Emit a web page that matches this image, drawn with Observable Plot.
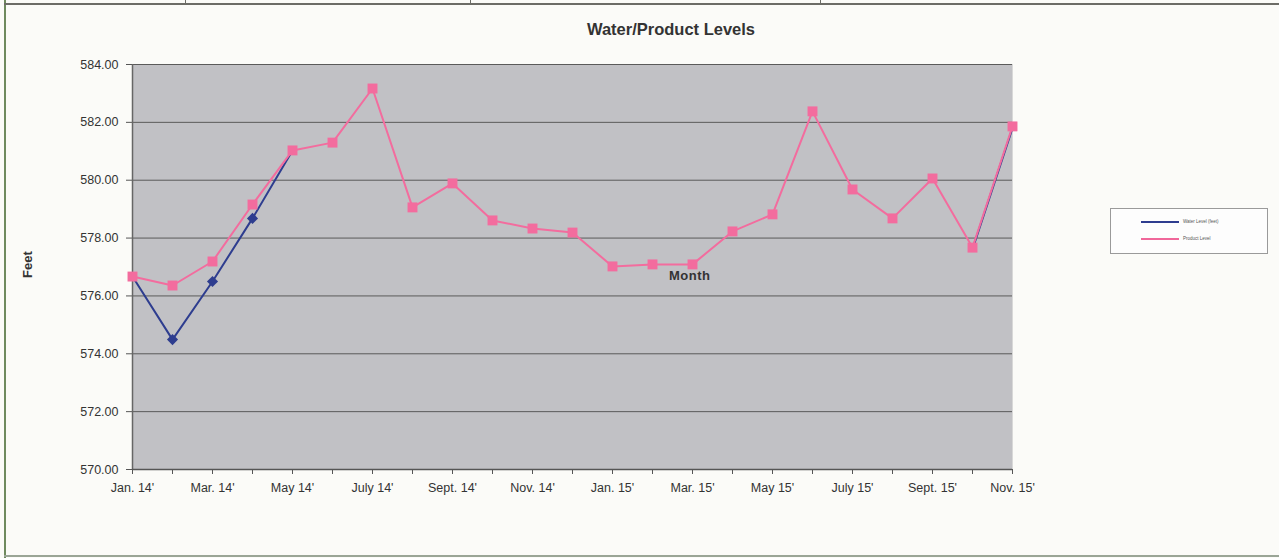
<!DOCTYPE html>
<html>
<head>
<meta charset="utf-8">
<script src="https://cdn.jsdelivr.net/npm/d3@7"></script>
<script src="https://cdn.jsdelivr.net/npm/@observablehq/plot@0.6"></script>
<style>
  html, body { margin: 0; padding: 0; background: #fbfbf8; }
  #wrap { position: relative; width: 1279px; height: 558px; overflow: hidden; background: #fbfbf8;
          font-family: "Liberation Sans", Arial, sans-serif; }
  .abs { position: absolute; }
  #chart { position: absolute; left: 0; top: 0; }
  #title { left: 0; width: 1342px; top: 20px; text-align: center; font-size: 16.5px; font-weight: bold; color: #333; }
  #ylab { left: 12px; top: 257px; font-size: 13px; font-weight: bold; color: #333; transform: rotate(-90deg); transform-origin: center; width: 30px; text-align: center; }
  #month { left: 669px; top: 268px; font-size: 13px; font-weight: bold; color: #333; letter-spacing: 0.5px; }
  #legend { left: 1110px; top: 208px; width: 156px; height: 44px; border: 1px solid #9a9a9a; background: #fdfdfd; }
  #legend .row { position: absolute; left: 30px; height: 8px; font-size: 4.5px; color: #555; white-space: nowrap; }
  #legend .sw { display: inline-block; width: 38px; height: 2px; vertical-align: middle; margin-right: 4px; }
</style>
</head>
<body>
<div id="wrap">
  <div class="abs" style="left:4px;top:0;width:2px;height:558px;background:#6f8a5e;"></div>
  <div class="abs" style="left:4px;top:3px;width:1275px;height:2px;background:#6c6c66;"></div>
  <div class="abs" style="left:185px;top:0;width:1px;height:4px;background:#6c6c66;"></div>
  <div class="abs" style="left:470px;top:0;width:1px;height:4px;background:#6c6c66;"></div>
  <div class="abs" style="left:820px;top:0;width:1px;height:4px;background:#6c6c66;"></div>
  <div class="abs" style="left:4px;top:555px;width:1275px;height:2px;background:#9aa596;"></div>
  <div id="chart"></div>
  <div id="title" class="abs">Water/Product Levels</div>
  <div id="ylab" class="abs">Feet</div>
  <div id="month" class="abs">Month</div>
  <div id="legend" class="abs">
    <div class="row" style="top:10px;"><span class="sw" style="background:#2e3d8f"></span>Water Level (feet)</div>
    <div class="row" style="top:27px;"><span class="sw" style="background:#f0679a"></span>Product Level</div>
  </div>
</div>
<script>
const months = ["Jan. 14'","Feb. 14'","Mar. 14'","Apr. 14'","May 14'","June 14'","July 14'","Aug. 14'","Sept. 14'","Oct. 14'","Nov. 14'","Dec. 14'",
                "Jan. 15'","Feb. 15'","Mar. 15'","Apr. 15'","May 15'","June 15'","July 15'","Aug. 15'","Sept. 15'","Oct. 15'","Nov. 15'"];
const productLevel = [576.67,576.36,577.19,579.16,581.03,581.30,583.17,579.06,579.89,578.61,578.33,578.19,
                      577.02,577.09,577.09,578.23,578.82,582.38,579.68,578.68,580.06,577.67,581.86];
// water level is hidden under the product line where the two coincide
const waterLevel   = [576.67,574.49,576.50,578.68,581.03,null,null,null,null,null,null,null,
                      null,null,null,null,null,null,null,null,null,577.62,581.80];
const yTicks = [570,572,574,576,578,580,582,584];

const data = months.map((m, i) => ({month: m, water: waterLevel[i], product: productLevel[i]}));
const pink = "#f36c9e", blue = "#2e3d8f";

const chart = Plot.plot({
  width: 1279, height: 558,
  marginLeft: 132, marginRight: 267, marginTop: 64, marginBottom: 89,
  style: {background: "transparent", fontFamily: "'Liberation Sans', Arial, sans-serif", fontSize: "12.5px", color: "#333"},
  x: {type: "point", domain: months, padding: 0, label: null},
  y: {domain: [570, 584], label: null},
  marks: [
    Plot.frame({fill: "#c1c1c5", stroke: null}),
    Plot.gridY(yTicks, {stroke: "#5a5a5a", strokeOpacity: 1, strokeWidth: 1}),
    Plot.axisY({ticks: yTicks, tickFormat: d => d.toFixed(2), tickSize: 6, tickPadding: 8, stroke: "#555", label: null}),
    Plot.axisX({ticks: months, tickFormat: (d) => (months.indexOf(d) % 2 === 0 ? d : ""), tickSize: 5, tickPadding: 9, stroke: "#555", label: null}),
    Plot.ruleX([months[0]], {stroke: "#666", strokeWidth: 1.5}),
    Plot.ruleX([months[months.length - 1]], {stroke: "#d8d8d8", strokeWidth: 1}),
    Plot.ruleY([570], {stroke: "#555", strokeWidth: 1.5}),
    Plot.line(data, {x: "month", y: "water", stroke: blue, strokeWidth: 2}),
    Plot.dot(data.slice(1, 4), {x: "month", y: "water", symbol: "diamond2", r: 5, fill: blue, stroke: null}),
    Plot.line(data, {x: "month", y: "product", stroke: pink, strokeWidth: 2}),
    Plot.dot(data, {x: "month", y: "product", symbol: "square", r: 5.6, fill: pink, stroke: null})
  ]
});
document.getElementById("chart").appendChild(chart);
</script>
</body>
</html>
